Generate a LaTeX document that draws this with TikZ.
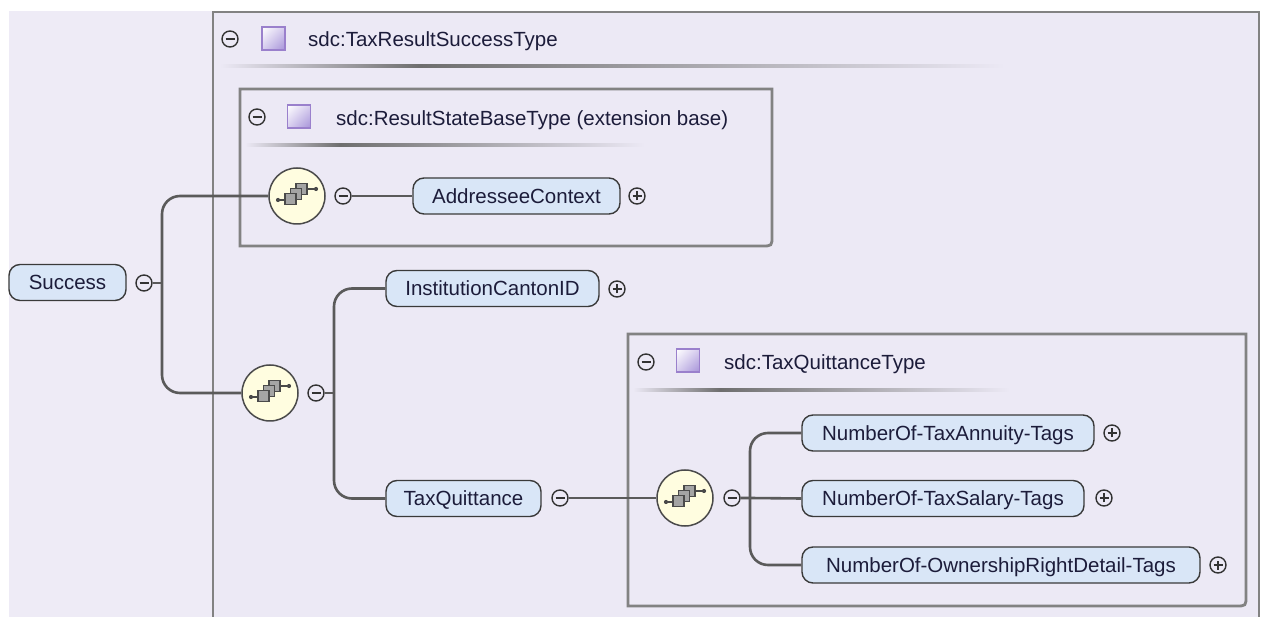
\documentclass[tikz,border=0pt]{standalone}
\usepackage{fontspec}
\setmainfont{Liberation Sans}
\usetikzlibrary{shadings}
\definecolor{pagebg}{HTML}{EEEBF6}
\definecolor{boxbg}{HTML}{ECE9F5}
\definecolor{boxline}{HTML}{828282}
\definecolor{connc}{HTML}{5A5A5A}
\definecolor{nodef}{HTML}{D9E6F7}
\definecolor{nodeb}{HTML}{3A3A3A}
\definecolor{txt}{HTML}{1C1C3A}
\definecolor{seqf}{HTML}{FFFDE0}
\definecolor{seqb}{HTML}{4A4A4A}
\definecolor{sqf}{HTML}{A4A4A4}
\definecolor{sqb}{HTML}{9A80CC}
\definecolor{sqm}{HTML}{D6CCEE}
\definecolor{sqp}{HTML}{A592D8}
\definecolor{sepc}{HTML}{6E6E6E}
\definecolor{btnc}{HTML}{333333}
\begin{document}
\begin{tikzpicture}[x=1pt,y=-1pt,
  conn/.style={draw=connc, line width=2.6pt},
  boxl/.style={draw=boxline, line width=2.8pt},
  elem/.style={draw=nodeb, fill=nodef, rounded corners=11pt, line width=1.4pt,
    minimum height=36pt, inner ysep=0pt, inner xsep=0pt, text height=14.7pt,
    text depth=0pt, text=txt, font=\fontsize{20.5}{24}\selectfont},
  hdr/.style={anchor=west, inner sep=0pt, text height=14.7pt, text depth=0pt,
    text=txt, font=\fontsize{20.5}{24}\selectfont},
  btn/.style={circle, draw=btnc, line width=1.4pt, minimum size=16pt, inner sep=0pt, fill=boxbg},
  minusbtn/.style={btn, path picture={\draw[btnc, line width=1.4pt]
    ([xshift=-4.5pt]path picture bounding box.center) -- ([xshift=4.5pt]path picture bounding box.center);}},
  plusbtn/.style={btn, path picture={\draw[btnc, line width=1.4pt]
    ([xshift=-4.5pt]path picture bounding box.center) -- ([xshift=4.5pt]path picture bounding box.center)
    ([yshift=-4.5pt]path picture bounding box.center) -- ([yshift=4.5pt]path picture bounding box.center);}},
  seqnode/.style={circle, draw=seqb, fill=seqf, line width=1.5pt, minimum size=56pt, inner sep=0pt},
  typeicon/.style={rectangle, minimum size=23pt, inner sep=0pt, draw=sqb, line width=1.2pt,
    upper left=white, upper right=sqm, lower left=sqm, lower right=sqp},
  seqicon/.pic={
    \draw[seqb, line width=1.2pt] (-19,4) -- (-12,4);
    \fill[seqb] (-19,4) circle[radius=2.1pt];
    \draw[seqb, line width=1.2pt] (9,-7) -- (19,-7);
    \fill[seqb] (19,-7) circle[radius=2.1pt];
    \draw[draw=seqb, fill=sqf, line width=1.1pt] (-1,-12.5) rectangle (10,-1.5);
    \draw[draw=seqb, fill=sqf, line width=1.1pt] (-6.5,-7.5) rectangle (4.5,3.5);
    \draw[draw=seqb, fill=sqf, line width=1.1pt] (-12,-2.5) rectangle (-1,8.5);
  }
]
\useasboundingbox (0,0) rectangle (1262,617);
\fill[white] (0,0) rectangle (1262,617);
\fill[pagebg] (9,11) rectangle (1259,617);
% outer type box
\fill[boxbg] (213,12) rectangle (1259,617);
\draw[boxl] (213,617) -- (213,12) -- (1259,12) -- (1259,617);
\shade[left color=boxbg, right color=sepc] (220,65) rectangle (420,68);
\shade[left color=sepc, right color=boxbg] (420,65) rectangle (1005,68);
\node[minusbtn] (hm1) at (230,39) {};
\node[typeicon] (ti1) at (273.5,38.5) {};
\node[hdr] (ht1) at (308,39) {sdc:TaxResultSuccessType};
% extension base box
\fill[boxbg] (240,89) rectangle (772,246);
\draw[boxl] (240,246) -- (240,89) -- (772,89) -- (772,236) .. controls (772,246) .. (762,246) -- cycle;
\shade[left color=boxbg, right color=sepc] (245,144) rectangle (340,147);
\shade[left color=sepc, right color=boxbg] (340,144) rectangle (645,147);
\node[minusbtn] (hm2) at (257,117) {};
\node[typeicon] (ti2) at (299,116.5) {};
\node[hdr] (ht2) at (336,118) {sdc:ResultStateBaseType (extension base)};
% quittance type box
\fill[boxbg] (628,334) rectangle (1246,606);
\draw[boxl] (628,606) -- (628,334) -- (1246,334) -- (1246,596) .. controls (1246,606) .. (1236,606) -- cycle;
\shade[left color=boxbg, right color=sepc] (633,389) rectangle (720,392);
\shade[left color=sepc, right color=boxbg] (720,389) rectangle (1010,392);
\node[minusbtn] (hm3) at (646,362) {};
\node[typeicon] (ti3) at (688,360.5) {};
\node[hdr] (ht3) at (724,362) {sdc:TaxQuittanceType};
% nodes
\node[elem, minimum width=117pt] (succ) at (67.5,282.5) {Success};
\node[minusbtn] (msucc) at (144,283) {};
\coordinate (j1) at (162,283);
\node[seqnode] (seq1) at (297,196) {};
\pic at (seq1.center) {seqicon};
\node[minusbtn] (m1) at (343,196) {};
\node[elem, minimum width=207pt] (addr) at (516.5,196) {AddresseeContext};
\node[plusbtn] (paddr) at (637,196) {};
\node[seqnode] (seq2) at (270,393) {};
\pic at (seq2.center) {seqicon};
\node[minusbtn] (m2) at (316,393) {};
\coordinate (j2) at (334,393);
\node[elem, minimum width=213pt] (inst) at (492.5,288.5) {InstitutionCantonID};
\node[plusbtn] (pinst) at (617,289) {};
\node[elem, minimum width=155pt] (taxq) at (463.5,498.5) {TaxQuittance};
\node[minusbtn] (mtaxq) at (560,498) {};
\node[seqnode] (seq3) at (685,498) {};
\pic at (seq3.center) {seqicon};
\node[minusbtn] (m3) at (732,498) {};
\coordinate (j3) at (750,498);
\node[elem, minimum width=292pt] (n1) at (948,433) {NumberOf-TaxAnnuity-Tags};
\node[plusbtn] (pn1) at (1112,433) {};
\node[elem, minimum width=282pt] (n2) at (943,498.5) {NumberOf-TaxSalary-Tags};
\node[plusbtn] (pn2) at (1104,498) {};
\node[elem, minimum width=398pt] (n3) at (1001,565) {NumberOf-OwnershipRightDetail-Tags};
\node[plusbtn] (pn3) at (1218,565) {};
% connectors
\draw[conn] (msucc.east) -- (j1);
\draw[conn, rounded corners=18pt] (seq1.west) -| (j1) |- (seq2.west);
\draw[conn] (m1.east) -- (addr.west);
\draw[conn] (m2.east) -- (j2);
\draw[conn, rounded corners=18pt] (inst.west) -| (j2) |- (taxq.west);
\draw[conn] (mtaxq.east) -- (seq3.west);
\draw[conn] (m3.east) -- (j3) -- (n2.west);
\draw[conn, rounded corners=18pt] (n1.west) -| (j3) |- (n3.west);
\end{tikzpicture}
\end{document}
